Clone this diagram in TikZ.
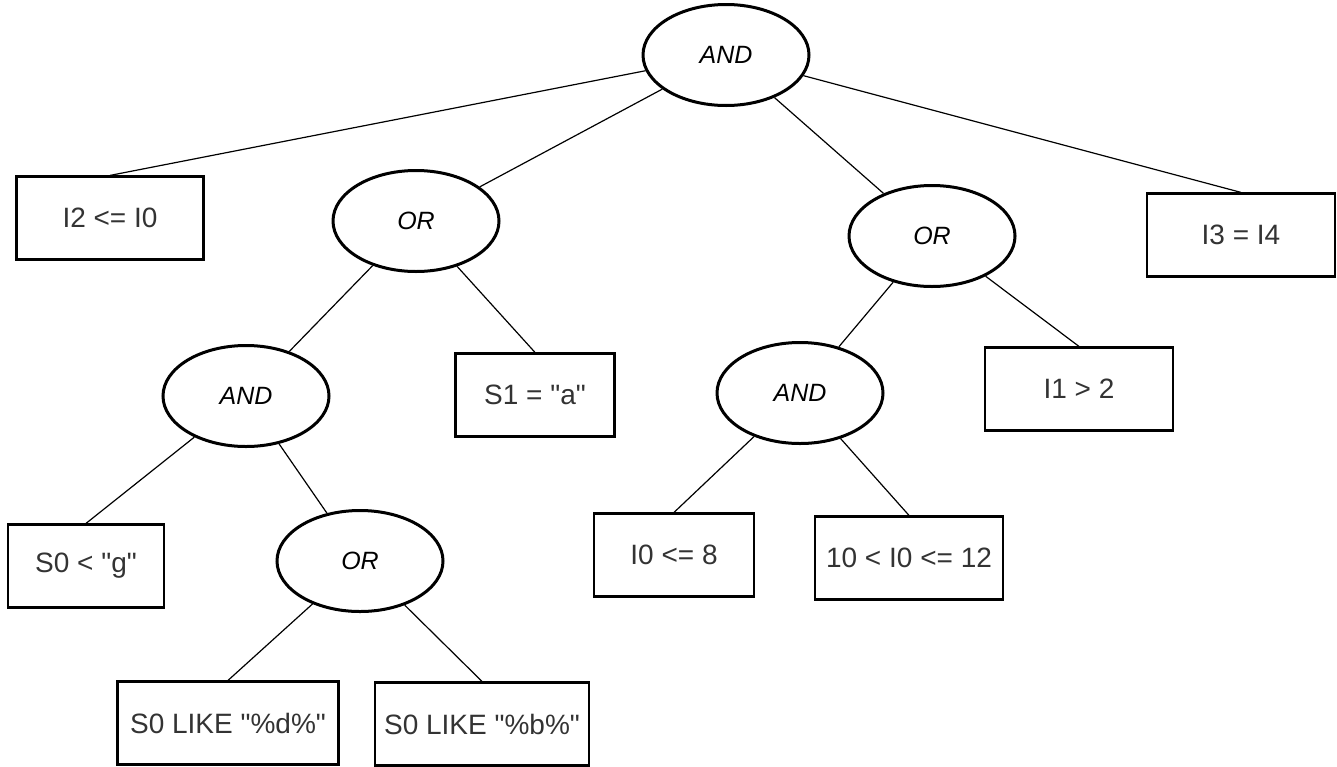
\documentclass[tikz,border=0pt]{standalone}
\usepackage{fontspec}
\setmainfont{Liberation Sans}[Ligatures=TeXOff]
\usetikzlibrary{shapes.geometric}

\begin{document}
\begin{tikzpicture}[x=1pt,y=-1pt,
  box/.style={draw,line width=2.2pt,minimum height=83pt,inner sep=0pt,text=black!80,font=\fontsize{28}{32}\selectfont},
  op/.style={draw,ellipse,line width=3pt,minimum width=166pt,minimum height=101pt,inner sep=0pt,font=\fontsize{25}{28}\selectfont\itshape},
  link/.style={line width=1.2pt}]
  \useasboundingbox (0,0) rectangle (1337,766);
  % operators
  \node[op] (and0) at (726,55) {AND};
  \node[op] (orl) at (416,221) {OR};
  \node[op] (andl) at (246,396) {AND};
  \node[op] (orll) at (360,561) {OR};
  \node[op] (orr) at (932,236) {OR};
  \node[op] (andr) at (800,393) {AND};
  % conditions
  \node[box,minimum width=187pt] (i2i0) at (110,218) {I2 <= I0};
  \node[box,minimum width=159pt] (s1a) at (535,395) {S1 = "a"};
  \node[box,minimum width=156pt] (s0g) at (86,566) {S0 < "g"};
  \node[box,minimum width=221pt] (liked) at (228,723) {S0 LIKE "\%d\%"};
  \node[box,minimum width=214pt] (likeb) at (482,724) {S0 LIKE "\%b\%"};
  \node[box,minimum width=188pt] (i3i4) at (1241,235) {I3 = I4};
  \node[box,minimum width=188pt] (i1two) at (1079,389) {I1 > 2};
  \node[box,minimum width=160pt] (i0eight) at (674,555) {I0 <= 8};
  \node[box,minimum width=188pt] (i0range) at (909,558) {10 < I0 <= 12};
  % edges
  \draw[link] (and0)--(i2i0.north); \draw[link] (and0)--(orl);
  \draw[link] (and0)--(orr); \draw[link] (and0)--(i3i4.north);
  \draw[link] (orl)--(andl); \draw[link] (orl)--(s1a.north);
  \draw[link] (andl)--(s0g.north); \draw[link] (andl)--(orll);
  \draw[link] (orll)--(liked.north); \draw[link] (orll)--(likeb.north);
  \draw[link] (orr)--(andr); \draw[link] (orr)--(i1two.north);
  \draw[link] (andr)--(i0eight.north); \draw[link] (andr)--(i0range.north);
\end{tikzpicture}
\end{document}
